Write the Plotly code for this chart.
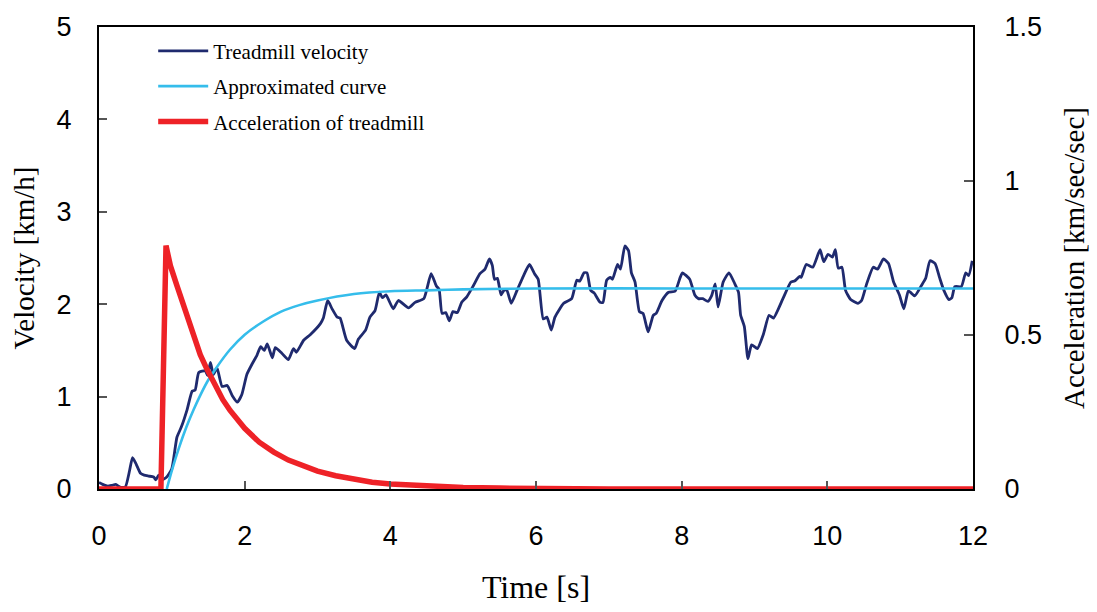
import plotly.graph_objects as go

# Treadmill belt velocity [km/h] sampled over time [s]
vel_t = [0.00, 0.05, 0.12, 0.18, 0.23, 0.29, 0.36, 0.42, 0.46, 0.51, 0.57, 0.62, 0.68, 0.75,
         0.78, 0.82, 0.87, 0.93, 1.00, 1.07, 1.13, 1.21, 1.28, 1.32, 1.37, 1.46, 1.49, 1.53,
         1.57, 1.62, 1.69, 1.76, 1.83, 1.90, 1.96, 2.03, 2.10, 2.17, 2.22, 2.27, 2.31, 2.38,
         2.42, 2.51, 2.60, 2.67, 2.71, 2.81, 2.90, 3.04, 3.08, 3.14, 3.20, 3.27, 3.31, 3.40,
         3.51, 3.56, 3.66, 3.72, 3.79, 3.85, 3.89, 3.94, 4.04, 4.11, 4.25, 4.34, 4.46, 4.56,
         4.63, 4.67, 4.71, 4.76, 4.81, 4.86, 4.92, 4.98, 5.05, 5.14, 5.23, 5.30, 5.36, 5.40,
         5.43, 5.47, 5.52, 5.56, 5.60, 5.66, 5.74, 5.83, 5.91, 5.98, 6.03, 6.10, 6.15, 6.21,
         6.26, 6.38, 6.49, 6.56, 6.60, 6.66, 6.70, 6.75, 6.80, 6.88, 6.92, 6.97, 7.02, 7.05,
         7.12, 7.16, 7.22, 7.27, 7.31, 7.36, 7.42, 7.47, 7.54, 7.61, 7.65, 7.73, 7.82, 7.91,
         7.98, 8.01, 8.11, 8.18, 8.23, 8.29, 8.36, 8.41, 8.46, 8.50, 8.57, 8.65, 8.73, 8.78,
         8.81, 8.86, 8.91, 8.96, 9.04, 9.12, 9.20, 9.26, 9.39, 9.50, 9.55, 9.62, 9.64, 9.71,
         9.80, 9.90, 9.95, 10.01, 10.07, 10.11, 10.15, 10.20, 10.25, 10.32, 10.42, 10.47,
         10.54, 10.63, 10.69, 10.77, 10.84, 10.91, 10.99, 11.05, 11.11, 11.14, 11.20, 11.29,
         11.35, 11.41, 11.48, 11.54, 11.60, 11.67, 11.71, 11.75, 11.84, 11.90, 11.94, 11.99]
vel_v = [0.07, 0.05, 0.03, 0.04, 0.05, 0.02, 0.02, 0.20, 0.34, 0.27, 0.17, 0.15, 0.14, 0.13,
         0.10, 0.15, 0.10, 0.13, 0.22, 0.56, 0.67, 0.86, 1.06, 1.07, 1.26, 1.28, 1.23, 1.37,
         1.24, 1.31, 1.11, 1.12, 1.01, 0.94, 1.02, 1.24, 1.35, 1.45, 1.54, 1.50, 1.57, 1.42,
         1.53, 1.47, 1.40, 1.52, 1.48, 1.61, 1.67, 1.79, 1.85, 2.04, 1.95, 1.86, 1.85, 1.61,
         1.52, 1.62, 1.72, 1.86, 1.93, 2.13, 2.07, 2.10, 1.95, 2.04, 1.96, 2.02, 2.06, 2.33,
         2.20, 2.16, 1.90, 1.91, 1.82, 1.92, 1.91, 2.02, 2.08, 2.20, 2.33, 2.38, 2.49, 2.42,
         2.27, 2.28, 2.10, 2.15, 2.15, 2.01, 2.15, 2.31, 2.43, 2.33, 2.27, 1.84, 1.86, 1.72,
         1.86, 2.01, 2.06, 2.26, 2.25, 2.34, 2.34, 2.15, 2.12, 2.02, 2.02, 2.26, 2.29, 2.27,
         2.43, 2.38, 2.63, 2.58, 2.34, 2.24, 1.92, 1.90, 1.70, 1.88, 1.90, 2.04, 2.13, 2.14,
         2.29, 2.34, 2.27, 2.10, 2.06, 2.06, 2.03, 2.09, 2.22, 1.97, 2.24, 2.34, 2.22, 2.13,
         1.88, 1.76, 1.41, 1.56, 1.52, 1.67, 1.88, 1.85, 2.06, 2.24, 2.25, 2.30, 2.29, 2.43,
         2.40, 2.59, 2.46, 2.54, 2.51, 2.59, 2.39, 2.40, 2.15, 2.05, 2.01, 2.04,
         2.22, 2.40, 2.38, 2.49, 2.44, 2.24, 2.10, 1.95, 2.14, 2.13, 2.09, 2.20,
         2.28, 2.47, 2.44, 2.29, 2.15, 2.05, 2.07, 2.19, 2.19, 2.34, 2.31, 2.47]

# Approximated (first-order) velocity curve [km/h]
fit_t = [0.93, 1.00, 1.10, 1.20, 1.30, 1.40, 1.50, 1.60, 1.80, 2.00, 2.25, 2.50, 2.75,
         3.00, 3.50, 4.00, 4.50, 5.00, 6.00, 8.00, 10.00, 12.00]
fit_v = [0.00, 0.20, 0.45, 0.67, 0.86, 1.03, 1.18, 1.30, 1.51, 1.67, 1.81, 1.92, 1.99,
         2.04, 2.11, 2.14, 2.15, 2.16, 2.17, 2.17, 2.17, 2.17]

# Treadmill acceleration (right axis)
acc_t = [0.00, 0.85, 0.92, 0.98, 1.07, 1.16, 1.30, 1.39, 1.48, 1.60, 1.70, 1.80, 1.90,
         2.00, 2.20, 2.40, 2.60, 2.80, 3.00, 3.25, 3.50, 3.75, 4.00, 4.50, 5.00, 5.50,
         6.00, 7.00, 12.00]
acc_a = [0.00, 0.00, 0.79, 0.725, 0.66, 0.597, 0.49, 0.436, 0.39, 0.33, 0.29, 0.255, 0.224,
         0.197, 0.152, 0.120, 0.094, 0.074, 0.058, 0.043, 0.031, 0.022, 0.016, 0.009, 0.005,
         0.003, 0.0015, 0.0004, 0.00]

serif = "Liberation Serif, Times New Roman, serif"
sans = "Liberation Sans, Arial, sans-serif"

fig = go.Figure()
fig.add_trace(go.Scatter(x=vel_t, y=vel_v, mode="lines", name="Treadmill velocity",
                         line=dict(color="#1f2a6e", width=2.8, shape="spline", smoothing=0.5),
                         legendgroup="a"))
fig.add_trace(go.Scatter(x=fit_t, y=fit_v, mode="lines", name="Approximated curve",
                         line=dict(color="#35bdeb", width=2.6, shape="spline", smoothing=0.8),
                         legendgroup="b"))
fig.add_trace(go.Scatter(x=acc_t, y=acc_a, mode="lines", name="Acceleration of treadmill",
                         line=dict(color="#ee2227", width=5.5), yaxis="y2", legendgroup="c"))

tickfont = dict(family=sans, size=27, color="black")

fig.update_layout(
    width=1097, height=612,
    margin=dict(l=99, r=124, t=22, b=123),
    paper_bgcolor="white", plot_bgcolor="white",
    xaxis=dict(range=[0, 12], tickvals=[0, 2, 4, 6, 8, 10, 12], showgrid=False, zeroline=False,
               showline=True, linecolor="black", linewidth=2, mirror=True,
               ticks="inside", ticklen=8, tickcolor="#555", tickwidth=1.5,
               tickfont=tickfont, ticklabelstandoff=22,
               title=dict(text="Time [s]", font=dict(family=serif, size=32, color="black"),
                          standoff=25)),
    yaxis=dict(range=[0, 5], tickvals=[0, 1, 2, 3, 4, 5], showgrid=False, zeroline=False,
               showline=True, linecolor="black", linewidth=2,
               ticks="inside", ticklen=8, tickcolor="#555", tickwidth=1.5,
               tickfont=tickfont, ticklabelstandoff=20,
               title=dict(text="Velocity [km/h]", font=dict(family=serif, size=29, color="black"),
                          standoff=13)),
    yaxis2=dict(range=[0, 1.5], tickvals=[0, 0.5, 1, 1.5], ticktext=["0", "0.5", "1", "1.5"],
                overlaying="y", side="right", showgrid=False, zeroline=False,
                showline=True, linecolor="black", linewidth=2,
                ticks="inside", ticklen=9, tickcolor="#555", tickwidth=1.5,
                tickfont=tickfont, ticklabelstandoff=24,
                title=dict(text="Acceleration [km/sec/sec]",
                           font=dict(family=serif, size=29, color="black"), standoff=23)),
    legend=dict(x=0.062, y=0.992, xanchor="left", yanchor="top",
                font=dict(family=serif, size=21, color="black"),
                bgcolor="rgba(0,0,0,0)", tracegroupgap=5, itemwidth=50),
    showlegend=True,
)

fig.write_html("out.html")
